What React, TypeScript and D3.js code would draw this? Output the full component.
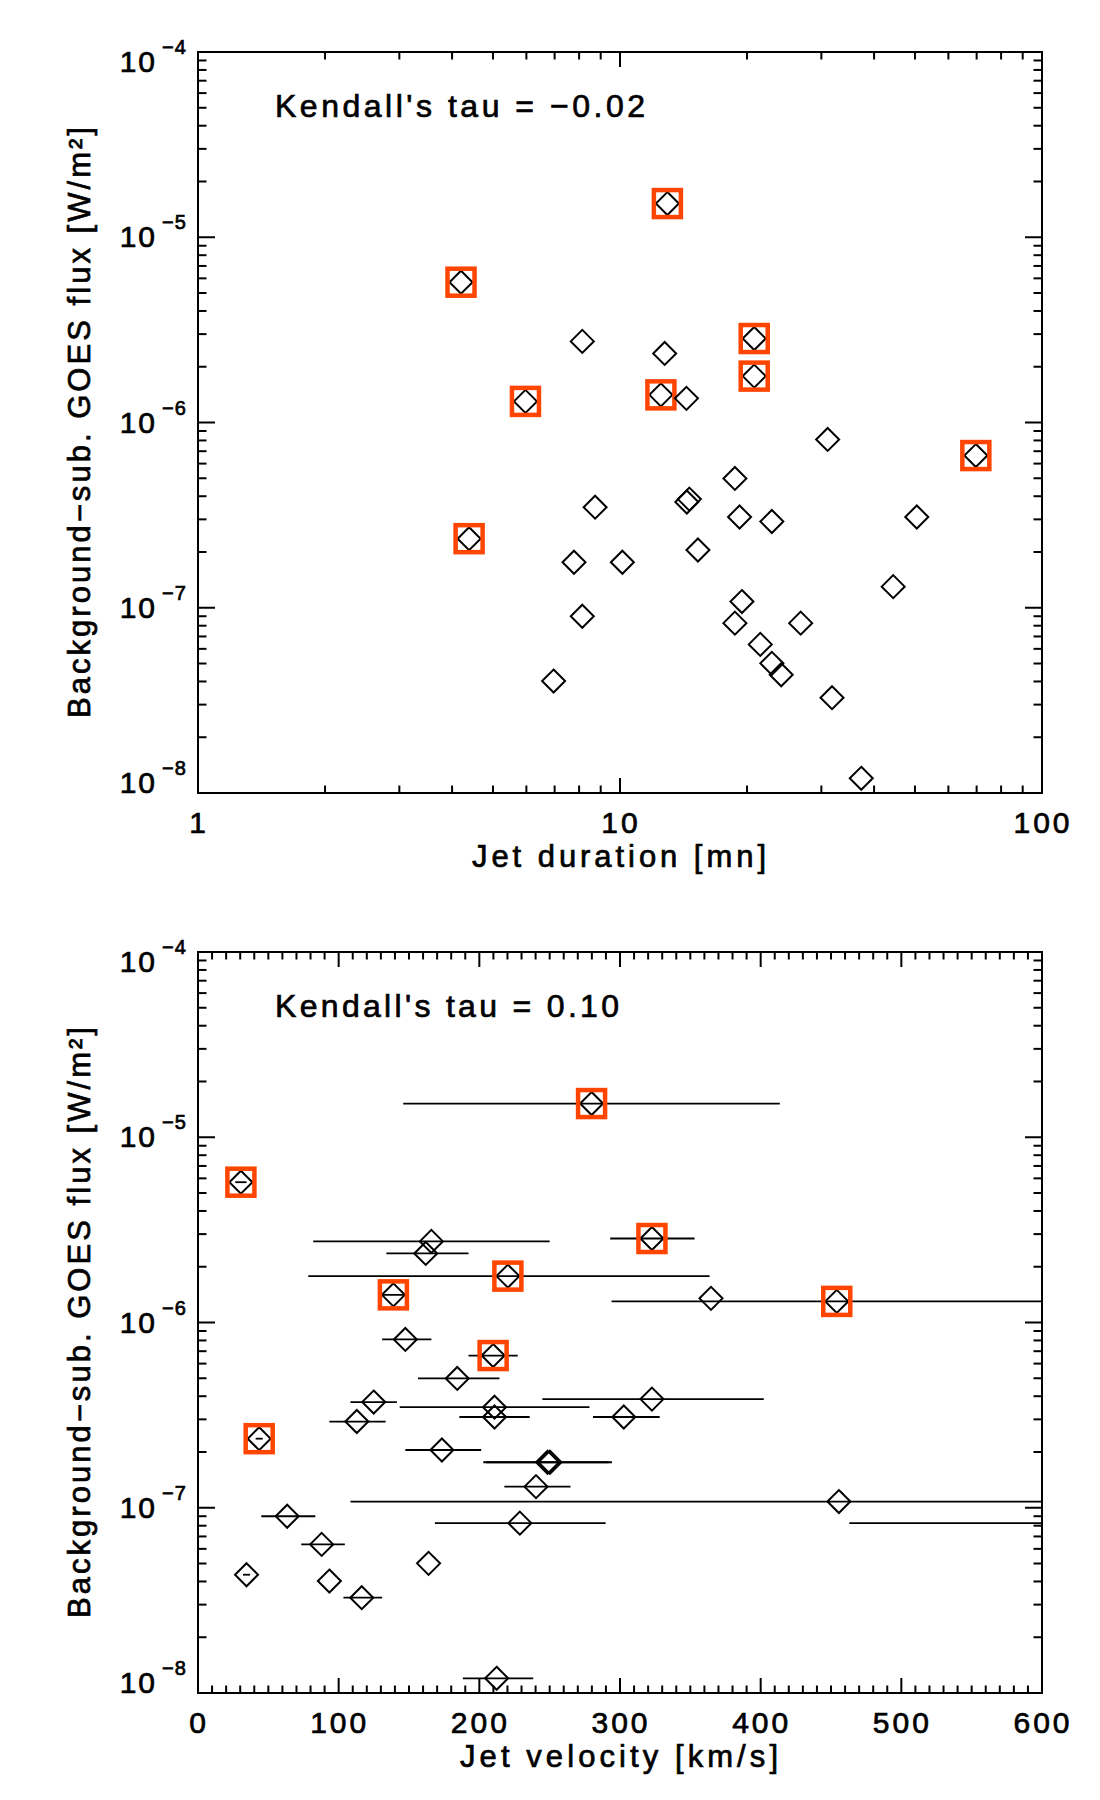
import React from "react";
import * as d3 from "d3";

// background-subtracted GOES flux for each jet [W/m^2]
const flux = [
  1.52e-5, 5.72e-6, 2.84e-6, 1.78e-6, 1.3e-6, 1.41e-6, 6.63e-7, 2.36e-7,
  2.74e-6, 2.36e-6, 1.35e-6, 8.1e-7, 4.99e-7, 3.49e-7, 3.72e-7, 3.86e-7,
  3.09e-7, 2.92e-7, 3.09e-7, 2.05e-7, 1.76e-7, 1.76e-7, 1.3e-7, 1.08e-7,
  9.0e-8, 8.26e-8, 8.26e-8, 6.34e-8, 5.01e-8, 4.35e-8, 4.02e-8, 3.27e-8,
  1.2e-8,
];
// jet duration [mn]
const duration = [
  12.95, 4.2, 20.8, 20.8, 5.97, 12.5, 69.7, 4.39,
  8.14, 12.76, 14.37, 31.05, 18.72, 8.73, 14.4, 14.6,
  19.2, 22.9, 50.5, 15.3, 7.78, 10.13, 44.4, 19.45,
  8.14, 18.72, 26.8, 21.5, 22.9, 24.1, 6.96, 31.8,
  37.3,
];
// jet velocity [km/s] and its range (null = no bar)
const velocity = [
  279.8, 30.5, 322.7, 220.3, 454.1, 138.9, 209.8, 43.5,
  165.9, 161.9, 364.7, 147.4, 184.3, 210.8, 124.9, 322.7,
  210.8, 112.9, 302.7, 173.4, 248.5, 250.2, 240.3, 455.6,
  63.4, 228.8, 720, 87.9, 163.9, 34.5, 93.4, 116.4,
  212.3,
];
const velLow = [
  145.9, 26.5, 293, 78.4, 294, 131, 192.3, 41,
  81.9, 133.9, null, 130.9, 156.4, 143.4, 108.4, 244.8,
  185.8, 93.4, 280.8, 147.4, 202.8, 205, 217.8, 108.4,
  45, 168.4, 463, 73.4, null, 32, null, 103.4,
  188.3,
];
const velHigh = [
  413.6, 34.5, 353, 363.7, 760, 147, 227.3, 46,
  250, 192.3, null, 165.9, 214.3, 278.3, 141.4, 402.2,
  235.8, 133.4, 328.2, 201.3, 294.3, 292, 264.8, 800,
  83.4, 289.8, 980, 104.4, null, 37, null, 130.9,
  238.3,
];
// jets marked with a red square
const flagged = [
  true, true, true, true, true, true, true, true,
  false, false, false, false, false, false, false, false,
  false, false, false, false, false, false, false, false,
  false, false, false, false, false, false, false, false,
  false,
];

const yExponents = [-8, -7, -6, -5, -4];
const durationTicks = [1, 10, 100];
const velocityTicks = [0, 100, 200, 300, 400, 500, 600];

const FONT = "'Liberation Sans', Arial, sans-serif";
const RED = "#ff4500";

const left = 198;
const right = 1042;
const plotH = 741;
const panelTops = [52, 952];

const isDecade = (t) =>
  Math.abs(Math.log10(t) - Math.round(Math.log10(t))) < 1e-6;

// thin outline to thicken the glyphs a little (IDL vector font look)
const ink = { stroke: "#000", strokeWidth: 0.7 };

function Panel({ top, x, xMajor, xMinor, xTickText, xLabel, xLabelLen, xs, tau, tauLen, bars, clipId }) {
  const bottom = top + plotH;
  const y = d3.scaleLog().domain([1e-8, 1e-4]).range([bottom, top]);
  const yTicks = y.ticks();
  const r = 11.5;

  const tick = (p, major, horiz) => {
    const len = horiz ? (major ? 15 : 7.5) : major ? 17 : 8.5;
    return horiz
      ? [
          <line key={"b" + p} x1={p} x2={p} y1={bottom} y2={bottom - len} />,
          <line key={"t" + p} x1={p} x2={p} y1={top} y2={top + len} />,
        ]
      : [
          <line key={"l" + p} x1={left} x2={left + len} y1={p} y2={p} />,
          <line key={"r" + p} x1={right} x2={right - len} y1={p} y2={p} />,
        ];
  };

  return (
    <g>
      <defs>
        <clipPath id={clipId}>
          <rect x={left} y={top} width={right - left} height={plotH} />
        </clipPath>
      </defs>
      <g stroke="#000" strokeWidth={2}>
        {xMinor.map((t) => tick(x(t), false, true))}
        {xMajor.map((t) => tick(x(t), true, true))}
        {yTicks.filter((t) => !isDecade(t)).map((t) => tick(y(t), false, false))}
        {yExponents.map((e) => tick(y(Math.pow(10, e)), true, false))}
      </g>
      <rect x={left} y={top} width={right - left} height={plotH} fill="none" stroke="#000" strokeWidth={2} />

      {/* y tick labels */}
      {yExponents.map((e, i) => {
        const py = y(Math.pow(10, e));
        const base = i === 0 ? py : i === yExponents.length - 1 ? py + 20 : py + 10;
        return (
          <g key={"yl" + e} fontFamily={FONT} {...ink}>
            <text x={157} y={base} textAnchor="end" fontSize={30} letterSpacing={2}>
              10
            </text>
            <text x={162} y={base - 18} fontSize={20} letterSpacing={1}>
              {"\u2212" + Math.abs(e)}
            </text>
          </g>
        );
      })}

      {/* x tick labels */}
      {xMajor.map((t) => (
        <text key={"xl" + t} x={x(t) + 1} y={bottom + 40} textAnchor="middle" fontSize={30} fontFamily={FONT} letterSpacing={3} {...ink}>
          {xTickText(t)}
        </text>
      ))}

      <text x={619} y={bottom + 74} textAnchor="middle" fontSize={31} fontFamily={FONT} textLength={xLabelLen} lengthAdjust="spacing" {...ink}>
        {xLabel}
      </text>
      <text
        transform={`translate(90,${(top + bottom) / 2}) rotate(-90)`}
        textAnchor="middle"
        fontSize={31}
        fontFamily={FONT}
        textLength={591}
        lengthAdjust="spacing"
        {...ink}
      >
        Background{"\u2212"}sub. GOES flux [W/m²]
      </text>
      <text x={275} y={top + 65} fontSize={32} fontFamily={FONT} textLength={tauLen} lengthAdjust="spacing" {...ink}>
        {tau}
      </text>

      {/* error bars */}
      {bars && (
        <g clipPath={`url(#${clipId})`} stroke="#000" strokeWidth={1.8}>
          {flux.map((f, i) =>
            velLow[i] == null ? null : (
              <line key={"e" + i} x1={x(velLow[i])} x2={x(velHigh[i])} y1={y(f)} y2={y(f)} />
            )
          )}
        </g>
      )}

      {/* points */}
      <g fill="none">
        {flux.map((f, i) => {
          const cx = x(xs[i]);
          const cy = y(f);
          if (cx < left || cx > right) return null;
          return (
            <g key={"p" + i}>
              <path d={`M${cx},${cy - r}L${cx + r},${cy}L${cx},${cy + r}L${cx - r},${cy}Z`} stroke="#000" strokeWidth={2} />
              {flagged[i] && (
                <rect x={cx - 13.5} y={cy - 13.5} width={27} height={27} stroke={RED} strokeWidth={4.5} />
              )}
            </g>
          );
        })}
      </g>
    </g>
  );
}

export default function App() {
  const xDur = d3.scaleLog().domain([1, 100]).range([left, right]);
  const xVel = d3.scaleLinear().domain([0, 600]).range([left, right]);

  const durMinor = xDur.ticks().filter((t) => !isDecade(t));
  const velMinor = xVel.ticks(60).filter((t) => t % 100 !== 0);

  return (
    <svg
      width={1100}
      height={1800}
      style={{ position: "absolute", left: 0, top: 0, background: "#fff" }}
    >
      <rect width={1100} height={1800} fill="#fff" />
      <Panel
        top={panelTops[0]}
        x={xDur}
        xMajor={durationTicks}
        xMinor={durMinor}
        xTickText={(t) => String(t)}
        xLabel="Jet duration [mn]"
        xLabelLen={294}
        xs={duration}
        tau={"Kendall's tau  =  \u22120.02"}
        tauLen={370}
        bars={false}
        clipId="c1"
      />
      <Panel
        top={panelTops[1]}
        x={xVel}
        xMajor={velocityTicks}
        xMinor={velMinor}
        xTickText={(t) => String(t)}
        xLabel="Jet velocity [km/s]"
        xLabelLen={318}
        xs={velocity}
        tau={"Kendall's tau  =  0.10"}
        tauLen={344}
        bars={true}
        clipId="c2"
      />
    </svg>
  );
}
